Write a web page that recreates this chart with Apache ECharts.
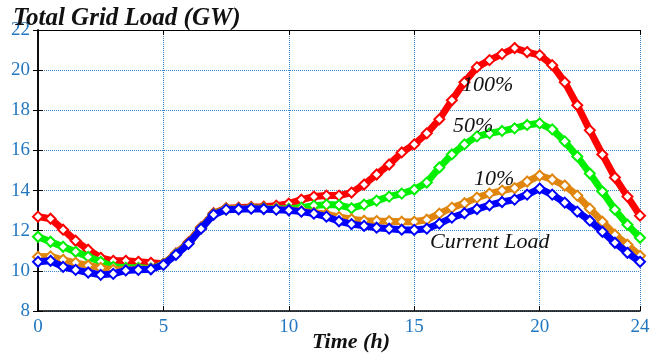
<!DOCTYPE html>
<html>
<head>
<meta charset="utf-8">
<script src="https://cdn.jsdelivr.net/npm/echarts@6/dist/echarts.min.js"></script>
<style>
	html, body { margin: 0; padding: 0; background: #fff; }
	#chart { width: 659px; height: 358px; }
</style>
</head>
<body>
<div id="chart"></div>
<script>
// hours, every half hour
var hours = [];
for(var i = 0; i <= 48; i++)
	hours.push(i / 2);

var xTicks = [0, 5, 10, 15, 20, 24];

// GW
var loadCurrent = [10.45, 10.5, 10.2, 10.05, 9.92, 9.8, 9.85, 10.02, 10.05, 10.08,
	10.3, 10.8, 11.35, 12.1, 12.8, 13.05, 13.07, 13.1, 13.08, 13.05,
	13.02, 12.95, 12.85, 12.7, 12.47, 12.33, 12.24, 12.15, 12.1, 12.05,
	12.04, 12.1, 12.35, 12.65, 12.87, 13.08, 13.27, 13.43, 13.55, 13.8,
	14.1, 13.8, 13.4, 12.95, 12.5, 11.95, 11.4, 10.9, 10.45];
var load10 = [10.7, 10.72, 10.55, 10.4, 10.27, 10.15, 10.05, 10.05, 10.08, 10.1,
	10.32, 10.82, 11.37, 12.12, 12.82, 13.07, 13.09, 13.12, 13.1, 13.07,
	13.04, 12.98, 12.9, 12.82, 12.68, 12.57, 12.5, 12.48, 12.47, 12.45,
	12.45, 12.55, 12.85, 13.15, 13.37, 13.65, 13.85, 14.0, 14.12, 14.45,
	14.75, 14.55, 14.25, 13.75, 13.1, 12.45, 11.8, 11.3, 10.75];
var load50 = [11.7, 11.45, 11.2, 10.95, 10.7, 10.45, 10.2, 10.15, 10.15, 10.12,
	10.33, 10.83, 11.38, 12.13, 12.83, 13.08, 13.1, 13.13, 13.12, 13.1,
	13.1, 13.15, 13.25, 13.3, 13.28, 13.12, 13.3, 13.5, 13.7, 13.85,
	14.05, 14.4, 15.15, 15.8, 16.3, 16.7, 16.85, 16.97, 17.1, 17.27,
	17.35, 17.05, 16.45, 15.7, 14.85, 13.95, 13.05, 12.3, 11.65];
var load100 = [12.7, 12.6, 12.05, 11.5, 11.05, 10.65, 10.5, 10.5, 10.45, 10.4,
	10.35, 10.87, 11.42, 12.17, 12.87, 13.12, 13.15, 13.18, 13.2, 13.25,
	13.35, 13.55, 13.7, 13.75, 13.75, 13.9, 14.3, 14.8, 15.3, 15.9,
	16.3, 16.85, 17.55, 18.5, 19.4, 20.15, 20.5, 20.8, 21.1, 20.9,
	20.75, 20.25, 19.4, 18.25, 17.0, 15.8, 14.65, 13.7, 12.75];

var seriesNames = ['100%', '50%', '10%', 'Current Load'];
var seriesValues = [load100, load50, load10, loadCurrent];
var seriesColors = ['#ff0000', '#00f000', '#e0860e', '#0000ff'];

var serif = '"Liberation Serif", "DejaVu Serif", serif';
var tickBlue = '#2277c0';
var gridBlue = '#3a88cc';

function pairs(values){
	return hours.map(function(h, i){ return [h, values[i]]; });
}

var series = [];
for(var s = 0; s < seriesNames.length; s++){
	series.push({
		name: seriesNames[s],
		type: 'line',
		data: pairs(seriesValues[s]),
		symbol: 'emptyDiamond',
		symbolSize: 10,
		showSymbol: true,
		lineStyle: { color: seriesColors[s], width: 7 },
		itemStyle: { color: seriesColors[s], borderWidth: 1.5 },
		z: 2 + s
	});
}

function label(text, left, top, font){
	return {
		type: 'text',
		left: left,
		top: top,
		z: 20,
		style: {
			text: text,
			fill: '#111',
			font: font || ('italic 22px ' + serif)
		}
	};
}

var chart = echarts.init(document.getElementById('chart'));
chart.setOption({
	animation: false,
	title: {
		text: 'Total Grid Load (GW)',
		left: 8,
		top: 1,
		textStyle: {
			fontFamily: serif,
			fontStyle: 'italic',
			fontWeight: 'bold',
			fontSize: 25,
			color: '#111'
		}
	},
	grid: { left: 38, right: 19, top: 30, bottom: 47 },
	xAxis: [{
		type: 'value',
		min: 0,
		max: 24,
		interval: 5,
		axisLine: { lineStyle: { color: '#000', width: 1.5 } },
		axisTick: { inside: true, length: 5, lineStyle: { color: '#000' } },
		axisLabel: {
			customValues: xTicks,
			margin: 7,
			fontFamily: serif,
			fontSize: 19,
			color: tickBlue
		},
		splitLine: { show: true, lineStyle: { color: gridBlue, type: 'dotted', width: 1 } }
	}, {
		type: 'value',
		position: 'top',
		min: 0,
		max: 24,
		interval: 5,
		axisLine: { lineStyle: { color: '#000', width: 1 } },
		axisTick: { inside: true, length: 5, lineStyle: { color: '#000' } },
		axisLabel: { show: false },
		splitLine: { show: false }
	}],
	yAxis: [{
		type: 'value',
		min: 8,
		max: 22,
		interval: 2,
		axisLine: { show: true, lineStyle: { color: '#000', width: 1.5 } },
		axisTick: { show: true, inside: true, length: 5, lineStyle: { color: '#000' } },
		axisLabel: {
			margin: 8,
			fontFamily: serif,
			fontSize: 19,
			color: tickBlue
		},
		splitLine: { show: true, lineStyle: { color: gridBlue, type: 'dotted', width: 1 } }
	}, {
		type: 'value',
		position: 'right',
		min: 8,
		max: 22,
		interval: 2,
		axisLine: { show: true, lineStyle: { color: '#000', width: 1.5 } },
		axisTick: { show: true, inside: true, length: 5, lineStyle: { color: '#000' } },
		axisLabel: { show: false },
		splitLine: { show: false }
	}],
	series: series,
	graphic: [
		label('100%', 462, 74),
		label('50%', 453, 115),
		label('10%', 474, 168),
		label('Current Load', 430, 231),
		// x axis name sits a little right of centre in the original
		label('Time (h)', 312, 331, 'italic bold 22px ' + serif)
	]
});
</script>
</body>
</html>
